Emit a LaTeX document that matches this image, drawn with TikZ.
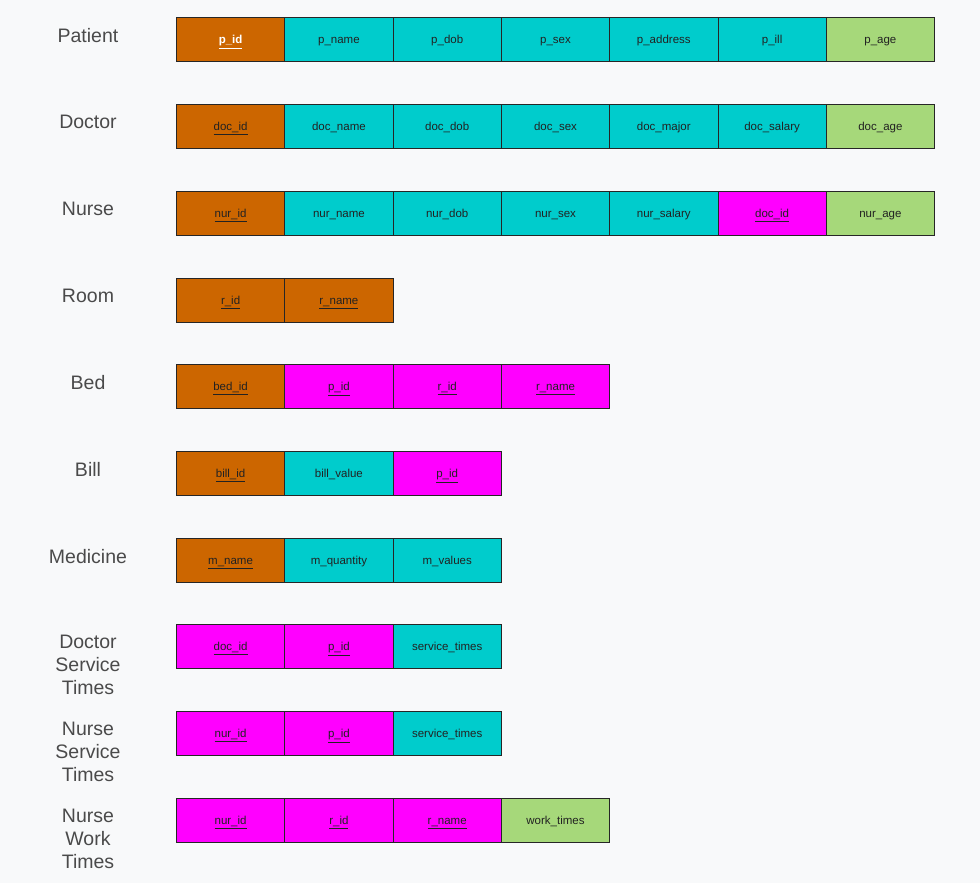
\documentclass[tikz,border=0pt]{standalone}
\usepackage{fontspec}
\setmainfont{Liberation Sans}
\usepackage{xcolor}
\definecolor{bg}{HTML}{F8F9FA}
\definecolor{pk}{HTML}{CC6600}
\definecolor{at}{HTML}{00CCCC}
\definecolor{fk}{HTML}{FF00FF}
\definecolor{dv}{HTML}{A6D87A}
\definecolor{lbl}{HTML}{4A4A4A}
\definecolor{txt}{HTML}{222222}
\begin{document}
\begin{tikzpicture}[x=1pt,y=-1pt,
  cell/.style={draw=black!85, line width=0.9pt, minimum width=108.3pt, minimum height=44pt, inner sep=0pt, text height=10pt, text depth=1pt, anchor=north west, font=\fontsize{11.5}{14}\selectfont, text=txt},
  pkc/.style={cell, fill=pk},
  atc/.style={cell, fill=at},
  fkc/.style={cell, fill=fk},
  dvc/.style={cell, fill=dv},
  tlabel/.style={anchor=north, align=center, font=\fontsize{19.5}{23}\selectfont, text=lbl}]
\fill[bg] (0,0) rectangle (980,883);
\useasboundingbox (0,0) rectangle (980,883);
\def\cw{108.3}
% Patient
\node[tlabel] (lPatient) at (88,25) {Patient};
\node[pkc] (pa1) at (176,17) {\textcolor{white}{\bfseries\underline{p\_id}}};
\node[atc] (pa2) at (176+\cw,17) {p\_name};
\node[atc] (pa3) at (176+2*\cw,17) {p\_dob};
\node[atc] (pa4) at (176+3*\cw,17) {p\_sex};
\node[atc] (pa5) at (176+4*\cw,17) {p\_address};
\node[atc] (pa6) at (176+5*\cw,17) {p\_ill};
\node[dvc] (pa7) at (176+6*\cw,17) {p\_age};
% Doctor
\node[tlabel] (lDoctor) at (88,112) {Doctor};
\node[pkc] (do1) at (176,104) {\underline{doc\_id}};
\node[atc] (do2) at (176+\cw,104) {doc\_name};
\node[atc] (do3) at (176+2*\cw,104) {doc\_dob};
\node[atc] (do4) at (176+3*\cw,104) {doc\_sex};
\node[atc] (do5) at (176+4*\cw,104) {doc\_major};
\node[atc] (do6) at (176+5*\cw,104) {doc\_salary};
\node[dvc] (do7) at (176+6*\cw,104) {doc\_age};
% Nurse
\node[tlabel] (lNurse) at (88,199) {Nurse};
\node[pkc] (nu1) at (176,191) {\underline{nur\_id}};
\node[atc] (nu2) at (176+\cw,191) {nur\_name};
\node[atc] (nu3) at (176+2*\cw,191) {nur\_dob};
\node[atc] (nu4) at (176+3*\cw,191) {nur\_sex};
\node[atc] (nu5) at (176+4*\cw,191) {nur\_salary};
\node[fkc] (nu6) at (176+5*\cw,191) {\underline{doc\_id}};
\node[dvc] (nu7) at (176+6*\cw,191) {nur\_age};
% Room
\node[tlabel] (lRoom) at (88,286) {Room};
\node[pkc] (ro1) at (176,278) {\underline{r\_id}};
\node[pkc] (ro2) at (176+\cw,278) {\underline{r\_name}};
% Bed
\node[tlabel] (lBed) at (88,372) {Bed};
\node[pkc] (be1) at (176,364) {\underline{bed\_id}};
\node[fkc] (be2) at (176+\cw,364) {\underline{p\_id}};
\node[fkc] (be3) at (176+2*\cw,364) {\underline{r\_id}};
\node[fkc] (be4) at (176+3*\cw,364) {\underline{r\_name}};
% Bill
\node[tlabel] (lBill) at (88,459) {Bill};
\node[pkc] (bi1) at (176,451) {\underline{bill\_id}};
\node[atc] (bi2) at (176+\cw,451) {bill\_value};
\node[fkc] (bi3) at (176+2*\cw,451) {\underline{p\_id}};
% Medicine
\node[tlabel] (lMedicine) at (88,546) {Medicine};
\node[pkc] (me1) at (176,538) {\underline{m\_name}};
\node[atc] (me2) at (176+\cw,538) {m\_quantity};
\node[atc] (me3) at (176+2*\cw,538) {m\_values};
% Doctor Service Times
\node[tlabel] (lDST) at (88,632) {Doctor\\Service\\Times};
\node[fkc] (ds1) at (176,624) {\underline{doc\_id}};
\node[fkc] (ds2) at (176+\cw,624) {\underline{p\_id}};
\node[atc] (ds3) at (176+2*\cw,624) {service\_times};
% Nurse Service Times
\node[tlabel] (lNST) at (88,719) {Nurse\\Service\\Times};
\node[fkc] (ns1) at (176,711) {\underline{nur\_id}};
\node[fkc] (ns2) at (176+\cw,711) {\underline{p\_id}};
\node[atc] (ns3) at (176+2*\cw,711) {service\_times};
% Nurse Work Times
\node[tlabel] (lNWT) at (88,806) {Nurse\\Work\\Times};
\node[fkc] (nw1) at (176,798) {\underline{nur\_id}};
\node[fkc] (nw2) at (176+\cw,798) {\underline{r\_id}};
\node[fkc] (nw3) at (176+2*\cw,798) {\underline{r\_name}};
\node[dvc] (nw4) at (176+3*\cw,798) {work\_times};
\end{tikzpicture}
\end{document}
